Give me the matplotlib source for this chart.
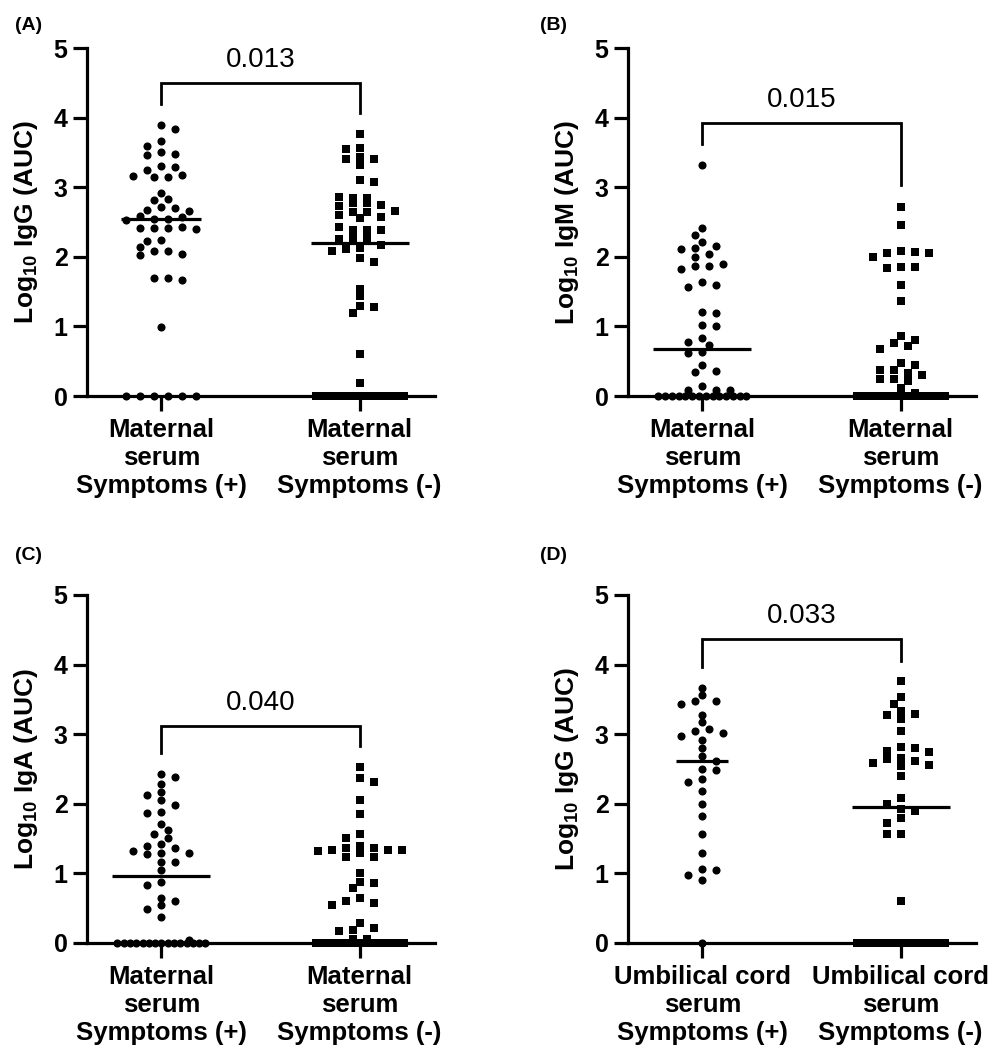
import numpy as np
import matplotlib
matplotlib.use("Agg")
import matplotlib.pyplot as plt

plt.rcParams['font.family'] = ['Liberation Sans', 'DejaVu Sans']
plt.rcParams['mathtext.fontset'] = 'custom'
plt.rcParams['mathtext.rm'] = 'Liberation Sans'
plt.rcParams['mathtext.bf'] = 'Liberation Sans:bold'

# ---- data ----
panel_letters = ["(A)", "(B)", "(C)", "(D)"]
y_labels = [r"$\mathbf{Log_{10}}$ IgG (AUC)", r"$\mathbf{Log_{10}}$ IgM (AUC)",
            r"$\mathbf{Log_{10}}$ IgA (AUC)", r"$\mathbf{Log_{10}}$ IgG (AUC)"]
group_labels = [
    ["Maternal\nserum\nSymptoms (+)", "Maternal\nserum\nSymptoms (-)"],
    ["Maternal\nserum\nSymptoms (+)", "Maternal\nserum\nSymptoms (-)"],
    ["Maternal\nserum\nSymptoms (+)", "Maternal\nserum\nSymptoms (-)"],
    ["Umbilical cord\nserum\nSymptoms (+)", "Umbilical cord\nserum\nSymptoms (-)"],
]
p_values = ["0.013", "0.015", "0.040", "0.033"]
bracket_y = [4.5, 3.92, 3.12, 4.37]
bracket_left_end = [4.2, 3.62, 2.73, 3.97]
bracket_right_end = [4.07, 3.03, 2.83, 4.05]

igg_maternal_pos = [3.89, 3.83, 3.67, 3.59, 3.50, 3.46, 3.47, 3.24, 3.29, 3.30,
                    3.14, 3.17, 3.14, 3.16, 2.92, 2.81, 2.83, 2.71, 2.70, 2.66,
                    2.67, 2.58, 2.57, 2.54, 2.54, 2.53, 2.41, 2.43, 2.41, 2.42,
                    2.40, 2.24, 2.23, 2.09, 2.14, 2.09, 2.02, 2.04, 1.66, 1.70,
                    1.70, 0.99,
                    0, 0, 0, 0, 0, 0]
igg_maternal_neg = [3.76, 3.55, 3.56, 3.43, 3.41, 3.40, 3.32, 3.08, 3.11, 2.85,
                    2.85, 2.86, 2.74, 2.78, 2.73, 2.78, 2.66, 2.65, 2.65, 2.57,
                    2.60, 2.56, 2.38, 2.38, 2.39, 2.43, 2.30, 2.25, 2.30, 2.24,
                    2.24, 2.11, 2.12, 2.17, 2.09, 1.98, 1.92, 1.54, 1.43, 1.29,
                    1.28, 1.19, 0.60, 0.18,
                    0, 0, 0, 0, 0, 0, 0, 0, 0, 0, 0, 0, 0, 0, 0, 0, 0, 0]
igm_maternal_pos = [3.32, 2.41, 2.32, 2.11, 2.12, 2.16, 2.21, 1.99, 2.04, 1.82,
                    1.89, 1.87, 1.87, 1.57, 1.64, 1.59, 1.19, 1.20, 1.02, 1.01,
                    0.83, 0.73, 0.77, 0.62, 0.63, 0.36, 0.44, 0.35, 0.14, 0.085,
                    0.086, 0.087,
                    0, 0, 0, 0, 0, 0, 0, 0, 0, 0, 0, 0, 0, 0]
igm_maternal_neg = [2.72, 2.45, 2.05, 2.09, 2.06, 2.07, 2.00, 1.84, 1.86, 1.85,
                    1.59, 1.37, 0.86, 0.81, 0.76, 0.72, 0.68, 0.48, 0.45, 0.37,
                    0.38, 0.33, 0.30, 0.24, 0.25, 0.21, 0.11, 0.04, 0.05,
                    0, 0, 0, 0, 0, 0, 0, 0, 0, 0, 0, 0, 0, 0, 0, 0,
                    0, 0, 0, 0, 0, 0, 0, 0, 0, 0, 0, 0, 0, 0, 0, 0]
iga_maternal_pos = [2.43, 2.39, 2.28, 2.17, 2.13, 2.05, 1.98, 1.88, 1.87, 1.71,
                    1.62, 1.56, 1.51, 1.42, 1.39, 1.37, 1.29, 1.28, 1.30, 1.32,
                    1.17, 1.16, 1.05, 0.88, 0.83, 0.61, 0.65, 0.49, 0.54, 0.38,
                    0.04,
                    0, 0, 0, 0, 0, 0, 0, 0, 0, 0, 0, 0, 0, 0, 0]
iga_maternal_neg = [2.53, 2.37, 2.32, 2.05, 1.85, 1.56, 1.51, 1.40, 1.37, 1.29,
                    1.33, 1.32, 1.34, 1.36, 1.335, 1.23, 1.24, 1.01, 0.88, 0.86,
                    0.79, 0.65, 0.61, 0.55, 0.58, 0.29, 0.17, 0.22, 0.19, 0.06,
                    0.061,
                    0, 0, 0, 0, 0, 0, 0, 0, 0, 0, 0, 0, 0, 0, 0, 0, 0,
                    0, 0, 0, 0, 0, 0, 0, 0, 0, 0, 0, 0, 0, 0, 0, 0]
igg_cord_pos = [3.67, 3.56, 3.48, 3.47, 3.44, 3.28, 3.17, 3.07, 3.04, 3.02,
                2.97, 2.91, 2.80, 2.68, 2.61, 2.48, 2.50, 2.35, 2.31, 2.19,
                2.00, 1.83, 1.56, 1.29, 1.06, 1.05, 0.98, 0.90,
                0]
igg_cord_neg = [3.76, 3.54, 3.44, 3.33, 3.29, 3.28, 3.22, 3.04, 2.75, 2.76,
                2.80, 2.81, 2.64, 2.62, 2.66, 2.56, 2.58, 2.55, 2.40, 2.08,
                2.00, 1.90, 1.92, 1.80, 1.72, 1.56, 1.57, 0.61,
                0, 0, 0, 0, 0, 0, 0, 0, 0, 0, 0, 0, 0, 0]

panel_data = [
    (igg_maternal_pos, igg_maternal_neg),
    (igm_maternal_pos, igm_maternal_neg),
    (iga_maternal_pos, iga_maternal_neg),
    (igg_cord_pos, igg_cord_neg),
]

# ---- layout / style ----
W, H = 993, 1052
ax_rects = [
    (87 / W, 1 - 396 / H, 348 / W, 348 / H),
    (628 / W, 1 - 396 / H, 348 / W, 348 / H),
    (87 / W, 1 - 943 / H, 348 / W, 348 / H),
    (628 / W, 1 - 943 / H, 348 / W, 348 / H),
]
letter_pos = [(15 / W, 1 - 25 / H), (540 / W, 1 - 25 / H),
              (15 / W, 1 - 555 / H), (540 / W, 1 - 555 / H)]
DIAM = 7.0        # marker spacing in pixels
MAX_HALF = 44.0   # max half width of a swarm in pixels
LW = 2.3


def swarm_offsets(ax, values, x0):
    """Beeswarm-like horizontal offsets (in data units) for a column of points."""
    vals = np.asarray(values, dtype=float)
    disp = ax.transData.transform(np.column_stack([np.full(len(vals), x0), vals]))
    ypx = disp[:, 1]
    px_per_x = ax.transData.transform((1, 0))[0] - ax.transData.transform((0, 0))[0]
    xoff = np.zeros(len(vals))
    placed = []

    uniq, counts = np.unique(vals, return_counts=True)
    cnt = dict(zip(uniq, counts))
    # rows of identical values are laid out centred, compressed if needed
    for u, c in zip(uniq, counts):
        if c < 2:
            continue
        idx = np.where(vals == u)[0]
        step = min(2 * DIAM, 2 * MAX_HALF / (c - 1))
        offs = (np.arange(c) - (c - 1) / 2) * step
        xoff[idx] = offs
        placed += [(o, ypx[i]) for o, i in zip(offs, idx)]

    nmax = int(MAX_HALF // DIAM)
    for i in np.argsort(-vals):
        if cnt[vals[i]] > 1:
            continue
        best, best_score, found = 0.0, -1.0, False
        side_sum = sum(p[0] for p in placed)
        for k in range(nmax + 1):
            if k == 0:
                cands = [0.0]
            elif side_sum > 0:
                cands = [-k * DIAM, k * DIAM]
            else:
                cands = [k * DIAM, -k * DIAM]
            for dx in cands:
                if placed:
                    score = min(np.hypot((dx - px) / (2 * DIAM), (ypx[i] - py) / DIAM)
                                for px, py in placed)
                else:
                    score = 10.0
                if score >= 1.0:
                    best, found = dx, True
                    break
                if score > best_score:
                    best, best_score = dx, score
            if found:
                break
        xoff[i] = best
        placed.append((best, ypx[i]))
    return xoff / px_per_x, np.max(np.abs(xoff)) / px_per_x, px_per_x


fig = plt.figure(figsize=(W / 100, H / 100), dpi=100)

for n in range(4):
    ax = fig.add_axes(ax_rects[n])
    ax.set_xlim(-0.375, 1.38)
    ax.set_ylim(0, 5)
    for s in ["top", "right"]:
        ax.spines[s].set_visible(False)
    for s in ["left", "bottom"]:
        ax.spines[s].set_linewidth(LW)

    for g, (vals, marker, size) in enumerate(zip(panel_data[n], ["o", "s"], [34, 29])):
        offs, half, px_per_x = swarm_offsets(ax, vals, g)
        ax.scatter(g + offs, vals, marker=marker, s=size, color="black",
                   linewidths=0, clip_on=False, zorder=3)
        med_half = min(half + 5.0 / px_per_x, 49.0 / px_per_x)
        med = np.median(vals)
        ax.plot([g - med_half, g + med_half], [med, med], color="black",
                lw=LW, solid_capstyle="butt", clip_on=False, zorder=4)

    # significance bracket
    ax.plot([0, 0, 1, 1],
            [bracket_left_end[n], bracket_y[n], bracket_y[n], bracket_right_end[n]],
            color="black", lw=2.0, solid_joinstyle="miter", clip_on=False)
    ax.annotate(p_values[n], xy=(0.5, bracket_y[n]), xytext=(0, 11.5),
                textcoords="offset points", ha="center", va="baseline",
                fontsize=20, annotation_clip=False)

    ax.set_yticks(range(6))
    ax.set_yticklabels([str(t) for t in range(6)], fontweight="bold", fontsize=18)
    ax.set_xticks([0, 1])
    ax.set_xticklabels(group_labels[n], fontweight="bold", fontsize=18.5,
                       linespacing=1.2)
    ax.tick_params(axis="y", length=10, width=LW, pad=4)
    ax.tick_params(axis="x", length=11, width=LW, pad=5)
    ax.set_ylabel(y_labels[n], fontsize=19, fontweight="bold", labelpad=10)

    fig.text(letter_pos[n][0], letter_pos[n][1], panel_letters[n], fontsize=14,
             fontweight="bold", ha="left", va="center")

fig.savefig("out.png", dpi=100)
